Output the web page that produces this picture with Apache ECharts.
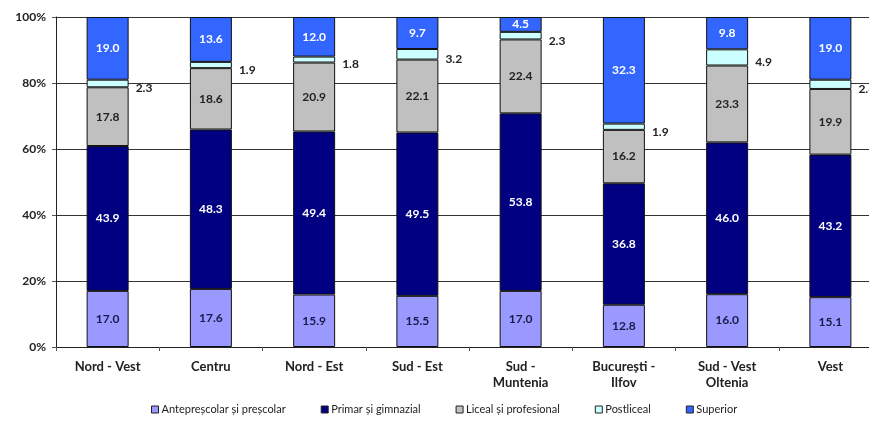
<!DOCTYPE html>
<html>
<head>
<meta charset="utf-8">
<script src="https://cdn.jsdelivr.net/npm/echarts@6/dist/echarts.min.js"></script>
<style>
html,body{margin:0;padding:0;background:#fff;}
#c{width:869px;height:425px;}
</style>
</head>
<body>
<div id="c"></div>
<script>
const categories = ['Nord - Vest', 'Centru', 'Nord - Est', 'Sud - Est', 'Sud -\nMuntenia', 'București -\nIlfov', 'Sud - Vest\nOltenia', 'Vest'];
const antepreescolar = [17.0, 17.6, 15.9, 15.5, 17.0, 12.8, 16.0, 15.1];
const primar = [43.9, 48.3, 49.4, 49.5, 53.8, 36.8, 46.0, 43.2];
const liceal = [17.8, 18.6, 20.9, 22.1, 22.4, 16.2, 23.3, 19.9];
const postliceal = [2.3, 1.9, 1.8, 3.2, 2.3, 1.9, 4.9, 2.8];
const superior = [19.0, 13.6, 12.0, 9.7, 4.5, 32.3, 9.8, 19.0];
const seriesNames = ['Antepreșcolar și preșcolar', 'Primar și gimnazial', 'Liceal și profesional', 'Postliceal', 'Superior'];
const yTicks = [0, 20, 40, 60, 80, 100];

const FONT = 'Lato';
const fmt = p => p.value.toFixed(1);
function innerLabel(color) {
  return { show: true, position: 'inside', formatter: fmt, color: color, fontFamily: FONT, fontWeight: 'bold', fontSize: 12 };
}
function mk(name, data, color, label) {
  return {
    name: name, type: 'bar', stack: 'total', data: data, barWidth: 42,
    itemStyle: { color: color, borderColor: '#111', borderWidth: 1 },
    label: label, emphasis: { disabled: true }
  };
}
const chart = echarts.init(document.getElementById('c'), null, { renderer: 'canvas' });
chart.setOption({
  animation: false,
  backgroundColor: '#fff',
  grid: { left: 56, width: 826, top: 17, bottom: 78, containLabel: false, outerBoundsMode: 'none' },
  legend: {
    bottom: 5, left: 146,
    itemWidth: 7, itemHeight: 7, itemGap: 35,
    icon: 'rect',
    textStyle: { fontFamily: FONT, fontSize: 11, color: '#222', padding: [0, 0, 0, -2] },
    data: seriesNames.map(n => ({ name: n, itemStyle: { borderColor: '#222', borderWidth: 1 } }))
  },
  xAxis: {
    type: 'category', data: categories,
    axisLine: { lineStyle: { color: '#222', width: 1 } },
    axisTick: { show: true, length: 4, lineStyle: { color: '#555' } },
    axisLabel: { fontFamily: FONT, fontWeight: 'bold', fontSize: 13, color: '#222', margin: 12, lineHeight: 16, interval: 0 }
  },
  yAxis: {
    type: 'value', min: 0, max: 100, interval: 20,
    axisLine: { show: true, lineStyle: { color: '#222' } },
    axisTick: { show: true, length: 4, lineStyle: { color: '#555' } },
    splitLine: { lineStyle: { color: '#333', width: 1 } },
    axisLabel: { formatter: v => yTicks.includes(v) ? v + '%' : '', fontFamily: FONT, fontWeight: 'bold', fontSize: 12, color: '#222', margin: 10 }
  },
  series: [
    mk(seriesNames[0], antepreescolar, '#9999FF', innerLabel('#1a1a4a')),
    mk(seriesNames[1], primar, '#000080', innerLabel('#ffffff')),
    mk(seriesNames[2], liceal, '#C0C0C0', innerLabel('#222222')),
    mk(seriesNames[3], postliceal, '#CCFFFF', { show: true, position: 'right', distance: 7, offset: [0, 5], formatter: fmt, color: '#222', fontFamily: FONT, fontWeight: 'bold', fontSize: 12 }),
    mk(seriesNames[4], superior, '#3366FF', innerLabel('#ffffff'))
  ]
});
</script>
</body>
</html>
